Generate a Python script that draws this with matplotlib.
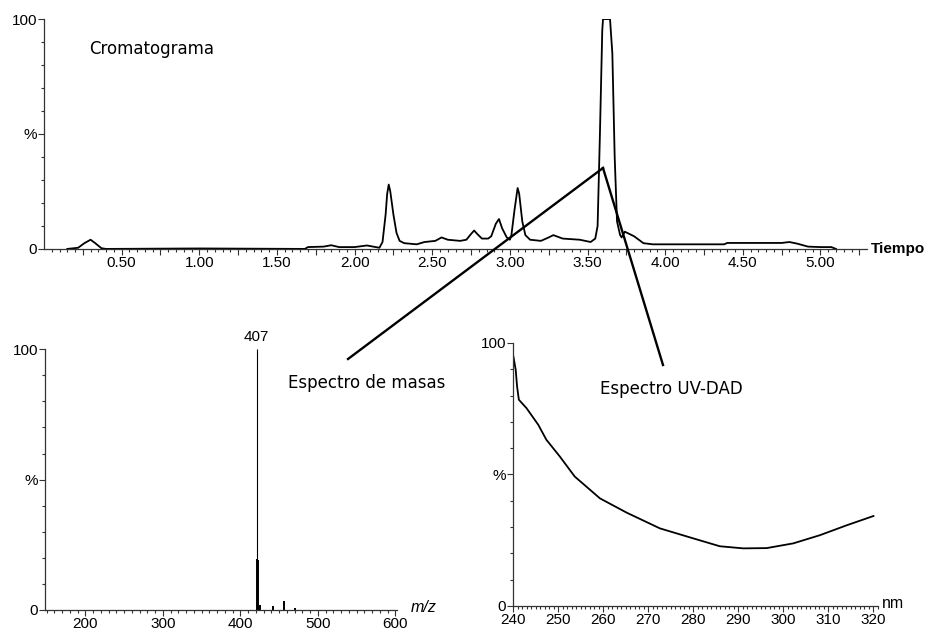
import matplotlib
matplotlib.use("Agg")
import matplotlib.pyplot as plt
import numpy as np
from matplotlib.lines import Line2D
from matplotlib.ticker import MultipleLocator, FixedLocator

# -- chromatogram (time in min, relative intensity %) -------------------------
chrom_t = [0.15, 0.22, 0.26, 0.30, 0.33, 0.37, 0.40, 1.00, 1.68, 1.70, 1.80,
           1.85, 1.90, 2.00, 2.08, 2.12, 2.16, 2.18, 2.20, 2.21, 2.22, 2.23,
           2.25, 2.27, 2.29, 2.32, 2.40, 2.45, 2.52, 2.56, 2.60, 2.68, 2.72,
           2.75, 2.77, 2.79, 2.82, 2.86, 2.88, 2.91, 2.93, 2.95, 2.98, 3.00,
           3.01, 3.03, 3.05, 3.06, 3.08, 3.10, 3.13, 3.20, 3.25, 3.28, 3.34,
           3.45, 3.52, 3.55, 3.565, 3.58, 3.595, 3.60, 3.645, 3.66, 3.675,
           3.69, 3.71, 3.72, 3.74, 3.80, 3.86, 3.92, 4.38, 4.40, 4.75, 4.80,
           4.85, 4.92, 5.00, 5.07, 5.10]
chrom_i = [0.0, 0.5, 2.5, 4.0, 2.5, 0.3, 0.0, 0.2, 0.0, 0.8, 1.0,
           1.6, 0.8, 0.8, 1.5, 1.0, 0.5, 3.0, 15.0, 24.0, 28.0, 25.0,
           15.0, 7.0, 3.5, 2.5, 2.0, 3.0, 3.5, 5.0, 4.0, 3.5, 4.0,
           6.5, 8.0, 6.5, 4.5, 4.5, 5.5, 11.0, 13.0, 9.0, 5.0, 4.0,
           6.0, 17.0, 26.5, 24.0, 12.0, 6.0, 4.0, 3.5, 5.0, 6.0, 4.5,
           4.0, 3.0, 4.5, 10.0, 50.0, 95.0, 100.0, 100.0, 85.0, 40.0,
           12.0, 6.0, 5.0, 7.5, 5.5, 2.5, 2.0, 2.0, 2.6, 2.6, 3.0,
           2.3, 1.0, 0.8, 0.8, 0.0]
chrom_ticks = [0.50, 1.00, 1.50, 2.00, 2.50, 3.00, 3.50, 4.00, 4.50, 5.00]

# -- mass spectrum (m/z, relative abundance %) --------------------------------
ms_mz = [421, 422, 423, 425, 442, 456, 470]
ms_int = [100.0, 19.5, 19.0, 2.0, 1.5, 3.5, 0.7]
ms_label = "407"
ms_ticks = [200, 300, 400, 500, 600]

# -- UV-DAD spectrum (nm, relative absorbance %) ------------------------------
uv_nm = [240.1, 240.6, 240.9, 241.3, 243.0, 245.6, 247.4, 250.4, 253.7, 259.3,
         265.2, 272.6, 280.0, 285.9, 291.1, 296.3, 302.2, 308.1, 314.1, 320.0]
uv_abs = [94.7, 89.8, 83.5, 78.4, 75.2, 68.9, 63.2, 56.8, 49.2, 40.9,
          35.5, 29.5, 25.7, 22.7, 21.9, 22.0, 23.8, 26.9, 30.7, 34.2]
uv_ticks = [240, 250, 260, 270, 280, 290, 300, 310, 320]

TICK_FONT = "Liberation Sans"
NOTE_FONT = "DejaVu Sans"


def style_axes(ax):
    for s in ("top", "right"):
        ax.spines[s].set_visible(False)
    for s in ("left", "bottom"):
        ax.spines[s].set_color("#333333")
        ax.spines[s].set_linewidth(0.9)
    ax.set_ylim(0, 100)
    ax.set_yticks([0, 50, 100])
    ax.set_yticklabels(["0", "%", "100"])
    ax.yaxis.set_minor_locator(MultipleLocator(10))
    ax.tick_params(axis="both", which="major", length=4, width=0.8,
                   color="#333333", labelsize=11, pad=1)
    ax.tick_params(axis="both", which="minor", length=2, width=0.8,
                   color="#333333")
    for lab in ax.get_xticklabels() + ax.get_yticklabels():
        lab.set_fontfamily(TICK_FONT)


fig = plt.figure(figsize=(9.28, 6.35), dpi=100)

# top: chromatogram
ax_c = fig.add_axes([0.0474, 0.608, 0.8869, 0.362])
ax_c.plot(chrom_t, chrom_i, color="black", lw=1.3)
ax_c.set_xlim(0, 5.3)
major = np.arange(0.25, 5.26, 0.25)
ax_c.xaxis.set_major_locator(FixedLocator(major))
ax_c.set_xticklabels([f"{v:.2f}" if round(v * 100) % 50 == 0 else ""
                      for v in major])
ax_c.xaxis.set_minor_locator(FixedLocator(np.arange(0.05, 5.3, 0.05)))
style_axes(ax_c)
ax_c.text(1.005, 0, "Tiempo", transform=ax_c.transAxes, ha="left",
          va="center", fontsize=11, fontweight="bold", family=TICK_FONT)
ax_c.text(0.055, 0.87, "Cromatograma", transform=ax_c.transAxes,
          fontsize=12, family=NOTE_FONT, va="center")

# bottom left: mass spectrum
ax_m = fig.add_axes([0.0485, 0.0394, 0.3793, 0.4106])
ax_m.vlines(ms_mz[:1], 0, ms_int[:1], color="black", lw=0.8)
ax_m.vlines(ms_mz[1:], 0, ms_int[1:], color="black", lw=1.4)
ax_m.set_xlim(148, 602)
ax_m.set_xticks(ms_ticks)
ax_m.xaxis.set_minor_locator(MultipleLocator(10))
style_axes(ax_m)
ax_m.text(ms_mz[0], 102, ms_label, ha="center", va="bottom", fontsize=11,
          family=TICK_FONT, clip_on=False)
ax_m.text(1.04, 0.01, "m/z", transform=ax_m.transAxes, ha="left",
          va="center", fontsize=11.5, style="italic", family=TICK_FONT)

# bottom right: UV-DAD spectrum
ax_u = fig.add_axes([0.5528, 0.0457, 0.3933, 0.4143])
ax_u.plot(uv_nm, uv_abs, color="black", lw=1.3)
ax_u.set_xlim(240, 321)
ax_u.set_xticks(uv_ticks)
ax_u.xaxis.set_minor_locator(MultipleLocator(1))
style_axes(ax_u)
ax_u.text(1.01, 0.01, "nm", transform=ax_u.transAxes, ha="left",
          va="center", fontsize=11.5, family=TICK_FONT)

# pointer lines from the main peak to the two spectra
apex = (603 / 928, 1 - 168 / 635)
end_ms = (348 / 928, 1 - 359 / 635)
end_uv = (663 / 928, 1 - 365 / 635)
for end in (end_ms, end_uv):
    fig.add_artist(Line2D([apex[0], end[0]], [apex[1], end[1]],
                          transform=fig.transFigure, color="black", lw=1.7))

fig.text(288 / 928, 1 - 383 / 635, "Espectro de masas", fontsize=12,
         family=NOTE_FONT, va="center")
fig.text(600 / 928, 1 - 389 / 635, "Espectro UV-DAD", fontsize=12,
         family=NOTE_FONT, va="center")

fig.savefig("out.png", dpi=100)
